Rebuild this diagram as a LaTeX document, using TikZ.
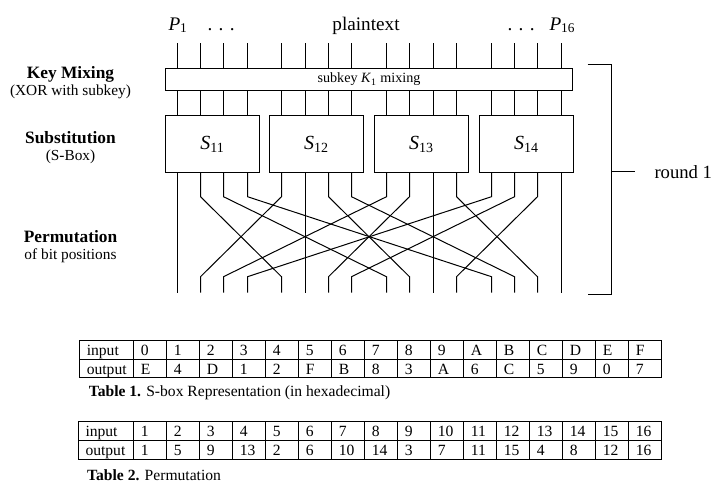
\documentclass[tikz,border=0pt]{standalone}
\usepackage{fontspec}
\setmainfont{Liberation Serif}
\usetikzlibrary{positioning,calc}

\begin{document}
\begin{tikzpicture}[x=0.75pt, y=-0.75pt, line width=0.75pt,
  box/.style={draw, inner sep=0pt},
  side/.style={align=center, font=\fontsize{11.5}{12.6}\selectfont},
  top/.style={anchor=base west, inner sep=0pt, font=\fontsize{14.4}{16}\selectfont},
  cell/.style={anchor=base west, inner sep=0pt, font=\fontsize{11.7}{13}\selectfont}]
  \useasboundingbox (0,0) rectangle (720,501);

  % bit positions
  \foreach \k in {0,...,15} {
    \pgfmathsetmacro\wx{floor(177.3+int(\k/4)*104.6+mod(\k,4)*23.3)+0.5}
    \coordinate (p\k) at (\wx,43.3);
    \coordinate (q\k) at (\wx,292.7);
  }

  \node[top] (pfirst) at (168,30) {\textit{P}\textsubscript{1}};
  \node[top] (dotsl) at (207,30) {.\hspace{0.33em}.\hspace{0.33em}.};
  \node[top, anchor=base] (plain) at (366,30) {plaintext};
  \node[top] (dotsr) at (507,30) {.\hspace{0.33em}.\hspace{0.33em}.};
  \node[top] (plast) at (549,30) {\textit{P}\textsubscript{16}};

  \node[box, minimum width=305.25pt, minimum height=16.5pt, font=\fontsize{10.6}{12}\selectfont] (key) at (369,79.5) {subkey \textit{K}\textsubscript{1} mixing};
  \foreach \g in {1,...,4} {
    \pgfmathtruncatemacro\ga{4*\g-4}
    \pgfmathtruncatemacro\gb{4*\g-1}
    \node[box, minimum width=70.5pt, minimum height=42.75pt, font=\fontsize{15}{17}\selectfont] (s\g) at ($(p\ga)!0.5!(p\gb)+(0,100.7)$) {\textit{S}\textsubscript{1\g}};
  }

  \foreach \k in {0,...,15} {
    \pgfmathtruncatemacro\dst{4*mod(\k,4)+int(\k/4)}
    \draw (p\k) -- (p\k |- key.north);
    \draw (p\k |- key.south) -- (p\k |- s1.north);
    \draw (p\k |- s1.south) -- ++(0,23.7) -- ($(q\dst)+(0,-16)$) -- (q\dst);
  }

  \node[side] (keymix) at (70.5,82.3) {{\fontsize{13}{12.6}\selectfont\bfseries Key Mixing}\\(XOR with subkey)};
  \node[side] (subst) at (70.5,147.8) {{\fontsize{13}{12.6}\selectfont\bfseries Substitution}\\(S-Box)};
  \node[side] (perm) at (70.5,247) {{\fontsize{13}{12.6}\selectfont\bfseries Permutation}\\of bit positions};

  \coordinate (bt) at (611.5,64.5);
  \coordinate (bb) at (611.5,294.5);
  \coordinate (bm) at (611.5,171.5);
  \draw ($(bt)+(-24,0)$) -- (bt) -- (bb) -- ++(-24,0);
  \draw (bm) -- ++(23,0);
  \node[anchor=west, inner sep=0pt, font=\fontsize{14}{16}\selectfont] (round) at (654,172.5) {round 1};

  % Table 1
  \draw (79.5,340.5) rectangle (661.5,377.5);
  \draw (79.5,359.5) -- (661.5,359.5);
  \foreach \i in {0,...,15}
    \draw (133.5+33*\i,340.5) -- (133.5+33*\i,377.5);
  \node[cell] (ain) at (86.3,355.7) {input};
  \node[cell] (aout) at (86.3,374.4) {output};
  \foreach \v [count=\i from 0] in {0,1,2,3,4,5,6,7,8,9,A,B,C,D,E,F}
    \node[cell] (ain\i) at (140.3+33*\i,355.7) {\v};
  \foreach \v [count=\i from 0] in {E,4,D,1,2,F,B,8,3,A,6,C,5,9,0,7}
    \node[cell] (aout\i) at (140.3+33*\i,374.4) {\v};
  \node[cell] (cap1) at (88.3,396.7) {\textbf{Table 1.} S-box Representation (in hexadecimal)};

  % Table 2
  \draw (78.5,421.5) rectangle (661.5,459.5);
  \draw (78.5,440.5) -- (661.5,440.5);
  \foreach \i in {0,...,15}
    \draw (133.5+33*\i,421.5) -- (133.5+33*\i,459.5);
  \node[cell] (bin) at (85,436.7) {input};
  \node[cell] (bout) at (85,455.7) {output};
  \foreach \v [count=\i from 0] in {1,2,3,4,5,6,7,8,9,10,11,12,13,14,15,16}
    \node[cell] (bin\i) at (140.3+33*\i,436.7) {\v};
  \foreach \v [count=\i from 0] in {1,5,9,13,2,6,10,14,3,7,11,15,4,8,12,16}
    \node[cell] (bout\i) at (140.3+33*\i,455.7) {\v};
  \node[cell] (cap2) at (86.7,480.7) {\textbf{Table 2.} Permutation};
\end{tikzpicture}
\end{document}
